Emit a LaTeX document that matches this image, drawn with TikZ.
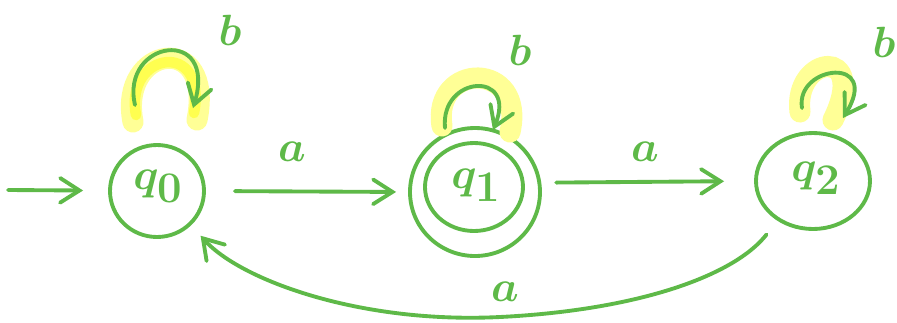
\documentclass[tikz,border=0pt]{standalone}
\usetikzlibrary{arrows.meta,shapes.geometric}
\definecolor{pen}{RGB}{94,185,72}
\definecolor{hlout}{RGB}{255,255,150}
\definecolor{hlin}{RGB}{255,255,80}
\begin{document}
\begin{tikzpicture}[x=0.02cm,y=-0.02cm,
  state/.style={draw=pen,line width=2.2pt,ellipse,inner sep=0pt},
  arr/.style={draw=pen,line width=2.2pt,line cap=round,-{Straight Barb[length=11pt,width=14pt,line cap=round]}},
  lbl/.style={text=pen,font=\fontsize{34}{40}\selectfont\boldmath},
  slbl/.style={text=pen,font=\fontsize{40}{46}\selectfont\boldmath},
  hlo/.style={draw=hlout,line width=12pt,line cap=round},
  hli/.style={draw=hlin,line width=6pt,line cap=round}]
\useasboundingbox (0,0) rectangle (897,322);
\clip (0,0) rectangle (897,322);
% states
\node[state,minimum width=94*0.02cm,minimum height=92*0.02cm] (q0) at (157,191) {};
\node[state,minimum width=130*0.02cm,minimum height=128*0.02cm] (q1) at (475,192) {};
\node[state,minimum width=98*0.02cm,minimum height=88*0.02cm] (q1i) at (474,187) {};
\node[state,minimum width=114*0.02cm,minimum height=96*0.02cm] (q2) at (813,181) {};
\node[slbl] (t0) at (158,186) {$q_0$};
\node[slbl] (t1) at (476,185) {$q_1$};
\node[slbl] (t2) at (816,178) {$q_2$};
% highlights
\draw[hlo] (133,122) .. controls (118,45) and (215,30) .. (197,120);
\draw[hli] (136,115) .. controls (124,52) and (208,38) .. (194,113);
\draw[hlo] (442,126) .. controls (432,62) and (526,60) .. (510,132);
\draw[hlo] (800,112) .. controls (793,55) and (870,45) .. (833,120);
% self loops
\coordinate (l0a) at (135,105); \coordinate (l0b) at (193,108);
\coordinate (l1a) at (445,128); \coordinate (l1b) at (493,130);
\coordinate (l2a) at (802,108); \coordinate (l2b) at (843,118);
\draw[arr] (l0a) .. controls (120,40) and (218,25) .. (l0b);
\draw[arr] (l1a) .. controls (440,75) and (518,70) .. (l1b);
\draw[arr] (l2a) .. controls (795,65) and (882,55) .. (l2b);
% transitions
\coordinate (init) at (8,190);
\draw[arr,shorten >=0.5cm] (init) -- (q0);
\draw[arr,shorten <=0.58cm,shorten >=0.24cm] (q0.east) -- (q1.west);
\draw[arr,shorten <=0.3cm,shorten >=0.6cm] (q1.8) -- (q2.west);
\draw[arr,shorten <=0.35cm,shorten >=0.28cm] (q2.228) .. controls (735,275) and (640,310) .. (500,317)
   .. controls (360,324) and (240,280) .. (q0.315);
% labels
\node[lbl] (la1) at (292,152) {$a$};
\node[lbl] (la2) at (645,152) {$a$};
\node[lbl] (la3) at (505,292) {$a$};
\node[lbl] (lb0) at (230,30) {$b$};
\node[lbl] (lb1) at (520,50) {$b$};
\node[lbl] (lb2) at (884,42) {$b$};
\end{tikzpicture}
\end{document}
